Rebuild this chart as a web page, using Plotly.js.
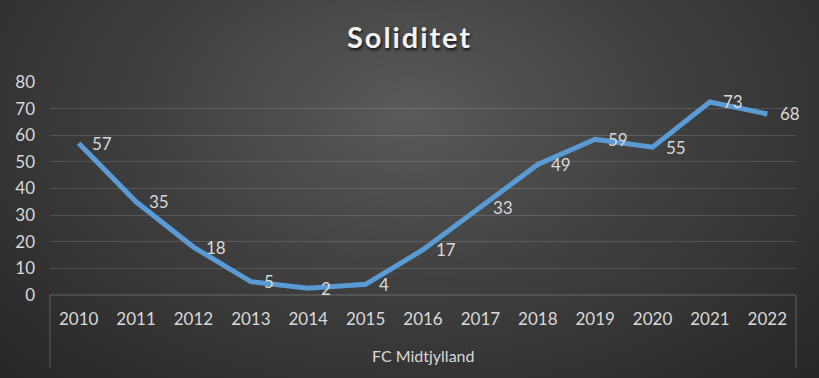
<!DOCTYPE html>
<html>
<head>
<meta charset="utf-8">
<script src="https://cdn.plot.ly/plotly-3.0.1.min.js"></script>
<style>
html,body{margin:0;padding:0;}
#chart{width:819px;height:378px;background:radial-gradient(ellipse at 50% 30%, #5a5a5a 0%, #404040 45%, #262626 100%);}
.gtitle{letter-spacing:1.9px;}
</style>
</head>
<body>
<div id="chart"></div>
<script>
const years = ['2010','2011','2012','2013','2014','2015','2016','2017','2018','2019','2020','2021','2022'];
const soliditet = [57, 35, 18, 5, 2.5, 4, 17, 33, 49, 58.5, 55.5, 72.5, 68];
const labels = ['57','35','18','5','2','4','17','33','49','59','55','73','68'];
const groupLabel = 'FC Midtjylland';
const yTicks = [0,10,20,30,40,50,60,70,80];

const txtColor = '#d9d9d9';
const fontFam = 'Lato, "Open Sans", sans-serif';

const trace = {
  x: years,
  y: soliditet,
  type: 'scatter',
  mode: 'lines',
  line: {color: '#5b9bd5', width: 5},
  cliponaxis: false,
  hoverinfo: 'skip'
};

const labelAnns = years.map((yr, i) => ({
  x: i, y: soliditet[i], xref: 'x', yref: 'y', text: labels[i],
  xanchor: 'left', yanchor: 'middle', xshift: 11, showarrow: false,
  font: {color: txtColor, size: 17, family: fontFam}
}));

const layout = {
  width: 819, height: 378,
  margin: {l: 50, r: 23, t: 82, b: 83},
  paper_bgcolor: 'rgba(0,0,0,0)',
  plot_bgcolor: 'rgba(0,0,0,0)',
  showlegend: false,
  title: {text: '<b>Soliditet</b>', x: 0.5, xanchor: 'center', y: 0.9, yanchor: 'middle',
          font: {color: '#f2f2f2', size: 29, family: fontFam, shadow: '1px 2px 3px #111'}},
  xaxis: {
    type: 'category', range: [-0.5, 12.5], showgrid: false, zeroline: false,
    showline: false, ticks: '', ticklabelstandoff: 12,
    tickfont: {color: txtColor, size: 17, family: fontFam},
    fixedrange: true
  },
  yaxis: {
    range: [0, 80], tickvals: yTicks, showgrid: true, gridcolor: 'rgba(255,255,255,0.14)', gridwidth: 1.2,
    zeroline: false, showline: false, ticks: '', ticklabelstandoff: 14,
    tickfont: {color: txtColor, size: 17, family: fontFam}, fixedrange: true
  },
  shapes: [
    {type: 'line', xref: 'paper', yref: 'paper', x0: 0, x1: 1, y0: 0, y1: 0, line: {color: 'rgba(255,255,255,0.16)', width: 1.5}},
    {type: 'line', xref: 'paper', yref: 'paper', x0: 0, x1: 0, y0: 0, y1: -73/213, line: {color: 'rgba(255,255,255,0.16)', width: 1.5}},
    {type: 'line', xref: 'paper', yref: 'paper', x0: 1, x1: 1, y0: 0, y1: -73/213, line: {color: 'rgba(255,255,255,0.16)', width: 1.5}}
  ],
  annotations: labelAnns.concat([
    {text: groupLabel, xref: 'paper', yref: 'paper', x: 0.5, y: -60/213, xanchor: 'center', yanchor: 'middle',
     showarrow: false, font: {color: txtColor, size: 16, family: fontFam}}
  ])
};

Plotly.newPlot('chart', [trace], layout, {displayModeBar: false, staticPlot: true});
</script>
</body>
</html>
